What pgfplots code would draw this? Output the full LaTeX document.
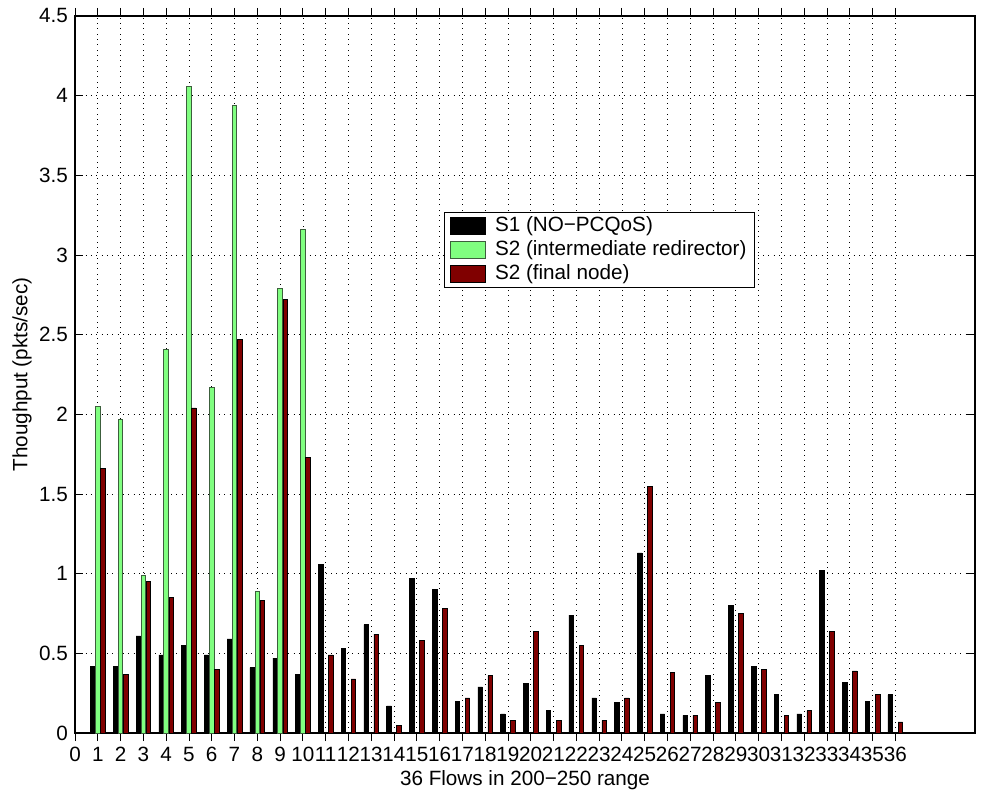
\documentclass[border=0pt]{standalone}
\usepackage{fontspec}
\setmainfont{Liberation Sans}
\usepackage{pgfplots}
\pgfplotsset{compat=1.18}
\usepackage{pgfplotstable}

\definecolor{barblack}{RGB}{0,0,0}
\definecolor{bargreen}{RGB}{128,255,128}
\definecolor{greenedge}{RGB}{60,95,60}
\definecolor{barred}{RGB}{128,0,0}

% flow, throughput
\pgfplotstableread{
x y
1 0.42
2 0.42
3 0.61
4 0.49
5 0.55
6 0.49
7 0.59
8 0.41
9 0.47
10 0.37
11 1.06
12 0.53
13 0.68
14 0.17
15 0.97
16 0.90
17 0.20
18 0.29
19 0.12
20 0.31
21 0.14
22 0.74
23 0.22
24 0.19
25 1.13
26 0.12
27 0.11
28 0.36
29 0.80
30 0.42
31 0.24
32 0.12
33 1.02
34 0.32
35 0.20
36 0.24
}\sone

\pgfplotstableread{
x y
1 2.05
2 1.97
3 0.99
4 2.41
5 4.06
6 2.17
7 3.94
8 0.89
9 2.79
10 3.16
}\stwoint

\pgfplotstableread{
x y
1 1.66
2 0.37
3 0.95
4 0.85
5 2.04
6 0.40
7 2.47
8 0.83
9 2.72
10 1.73
11 0.49
12 0.34
13 0.62
14 0.05
15 0.58
16 0.78
17 0.22
18 0.36
19 0.08
20 0.64
21 0.08
22 0.55
23 0.08
24 0.22
25 1.55
26 0.38
27 0.11
28 0.19
29 0.75
30 0.40
31 0.11
32 0.14
33 0.64
34 0.39
35 0.24
36 0.07
}\stwofin

\begin{document}
\fontsize{15.5}{18}\selectfont
\begin{tikzpicture}
\useasboundingbox (-56.25pt,-43.5pt) rectangle (684pt,549.75pt);
\begin{axis}[
    at={(0,0)}, anchor=south west,
    scale only axis,
    width=675pt, height=537.75pt,
    xmin=0, xmax=39.5,
    ymin=0, ymax=4.5,
    xtick={0,1,...,36},
    ytick={0,0.5,...,4.5},
    /pgf/number format/assume math mode=true,
    tick align=inside,
    major tick length=6pt,
    axis line style={line width=0.9pt},
    major tick style={black, line width=0.6pt},
    grid=major,
    major grid style={black, line width=0.5pt, dash pattern=on 0.6pt off 3.4pt},
    xticklabel style={anchor=base, yshift=-15.5pt},
    every axis x label/.style={at={(axis description cs:0.5,-0.0735)}, anchor=base},
    every axis y label/.style={at={(axis description cs:-0.0589,0.5)}, rotate=90, anchor=center},
    xlabel={36 Flows in 200−250 range},
    ylabel={Thoughput (pkts/sec)},
    ybar,
    bar width=0.2,
    legend image code/.code={\draw[#1] (0pt,-6.4pt) rectangle (26.25pt,6.4pt);},
    legend style={at={(0.41,0.7266)}, anchor=north west, draw=black, line width=0.8pt,
        inner xsep=4pt, inner ysep=1pt, column sep=5pt, cells={anchor=west},
        nodes={inner xsep=2pt, inner ysep=2.2pt}},
    clip=false,
]
\addplot[bar shift=-0.22, fill=barblack, draw=black, line width=0.4pt] table[x=x,y=y] {\sone};
\addplot[bar shift=0, fill=bargreen, draw=greenedge, line width=0.6pt] table[x=x,y=y] {\stwoint};
\addplot[bar shift=0.22, fill=barred, draw=black, line width=0.4pt] table[x=x,y=y] {\stwofin};
\legend{S1 (NO−PCQoS), S2 (intermediate redirector), S2 (final node)}
\end{axis}
\end{tikzpicture}
\end{document}
